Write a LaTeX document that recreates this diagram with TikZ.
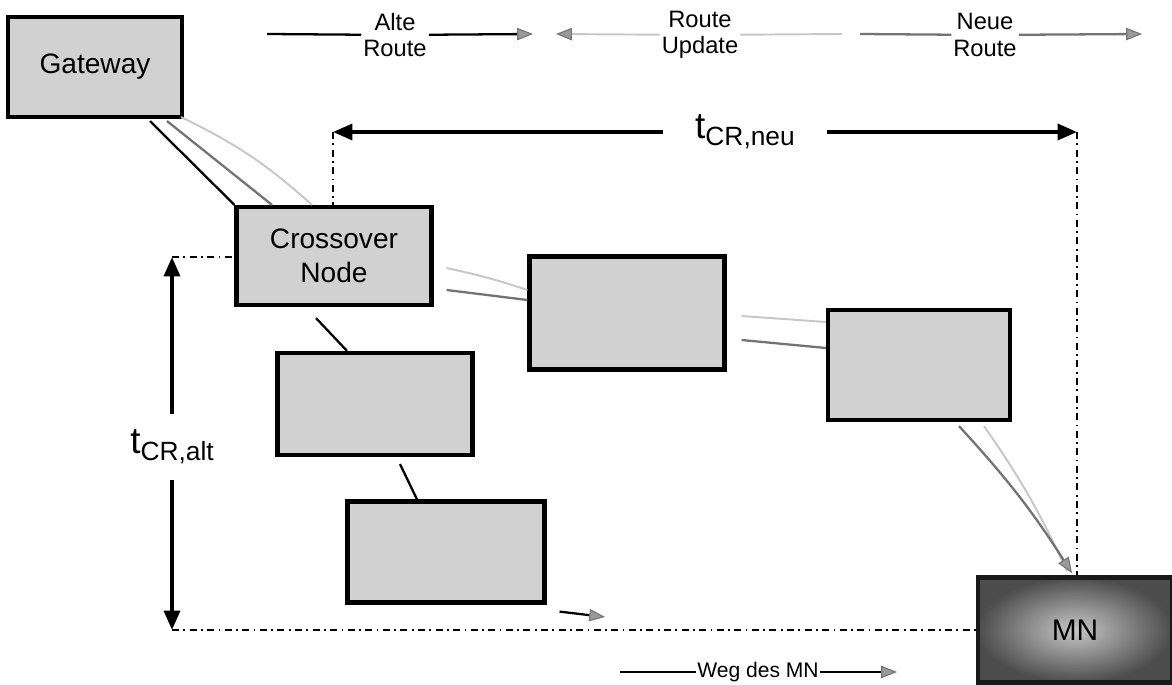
\documentclass[tikz,border=0pt]{standalone}
\usepackage{fontspec}
\setmainfont{Liberation Sans}
\usetikzlibrary{arrows.meta}

\begin{document}
\begin{tikzpicture}[
x=0.02cm, y=-0.02cm,
every node/.style={align=center},
box/.style={draw, line width=2.4pt, fill=black!18, font=\fontsize{16}{19}\selectfont},
mnbox/.style={draw=black!90, line width=2.6pt, inner color=black!22, outer color=black!70, font=\fontsize{17}{19}\selectfont},
legende/.style={font=\fontsize{13.5}{15}\selectfont, inner xsep=1pt, inner ysep=0pt},
zlabel/.style={inner xsep=18pt, inner ysep=9pt},
alt/.style={line width=1.3pt, black},
neu/.style={line width=1.3pt, black!55},
upd/.style={line width=1.1pt, black!22},
spitze/.style={-{Triangle[length=9pt, width=7pt, color=black!55, fill=black!40, line width=0.6pt]}},
zeit/.style={line width=2.2pt, -{Triangle[length=11pt, width=9pt]}},
hilf/.style={line width=1.5pt, dash pattern=on 4pt off 2.5pt on 1pt off 2.5pt}
]
\useasboundingbox (0,0) rectangle (1172,685);

\node[legende] (la) at (395,35) {Alte\\Route};
\node[legende] (lu) at (700,35) {Route\\Update};
\node[legende] (ln) at (985,35) {Neue\\Route};

\coordinate (la1) at (267,34);
\coordinate (la2) at (533,34);
\coordinate (lu1) at (556,34);
\coordinate (lu2) at (842,34);
\coordinate (ln1) at (860,34);
\coordinate (ln2) at (1142,34);

\draw[alt] (la1) -- (la);
\draw[alt, spitze] (la) -- (la2);
\draw[upd, spitze] (lu) -- (lu1);
\draw[upd] (lu) -- (lu2);
\draw[neu] (ln1) -- (ln);
\draw[neu, spitze] (ln) -- (ln2);

\node[box, minimum width=3.48cm, minimum height=2cm] (gw) at (95,67) {Gateway};
\node[box, minimum width=3.9cm, minimum height=1.96cm] (cn) at (334,256) {Crossover\\Node};
\node[box, minimum width=3.9cm, minimum height=2.26cm] (k1) at (627,313) {};
\node[box, minimum width=3.64cm, minimum height=2.2cm] (k2) at (919,365) {};
\node[box, minimum width=3.9cm, minimum height=2.04cm] (k3) at (375,404) {};
\node[box, minimum width=3.94cm, minimum height=2.02cm] (k4) at (446,552) {};
\node[mnbox, minimum width=3.88cm, minimum height=2.1cm] (mn) at (1075,630) {MN};

\draw[alt] ([shift={(55,2)}]gw.south) -- (cn.north west);
\draw[neu] ([shift={(72,2)}]gw.south) -- ([shift={(-62,0)}]cn.north);
\draw[upd] ([shift={(86,-2)}]gw.south) to[bend left=8] ([shift={(-22,0)}]cn.north);

\draw[upd] ([shift={(13,12)}]cn.east) to[bend left=3] ([shift={(0,-23)}]k1.west);
\draw[neu] ([shift={(13,34)}]cn.east) -- ([shift={(0,-13)}]k1.west);
\draw[upd] ([shift={(15,3)}]k1.east) -- ([shift={(0,-43)}]k2.west);
\draw[neu] ([shift={(15,27)}]k1.east) -- ([shift={(0,-17)}]k2.west);
\draw[upd] ([shift={(65,4)}]k2.south) to[bend left=5] ([shift={(-8,-4)}]mn.north);
\draw[neu, spitze] ([shift={(40,4)}]k2.south) to[bend left=5] ([shift={(-3,-2)}]mn.north);

\draw[alt] ([shift={(-18,11)}]cn.south) -- ([shift={(-28,0)}]k3.north);
\draw[alt] ([shift={(25,7)}]k3.south) -- ([shift={(-29,0)}]k4.north);
\coordinate (altziel) at (605,617);
\draw[alt, spitze] ([shift={(13,7)}]k4.south east) -- (altziel);

\node[zlabel] (tn) at (745,132) {\fontsize{21}{22}\selectfont t\raisebox{-4pt}{\fontsize{15}{17}\selectfont CR,neu}};
\coordinate (nl) at (333,132);
\coordinate (nr) at (1077,132);
\draw[zeit] (tn) -- (nl);
\draw[zeit] (tn) -- (nr);
\draw[hilf] (nl) -- (nl |- cn.north);
\draw[hilf] (nr) -- (nr |- mn.north);

\node[zlabel] (ta) at (172,447) {\fontsize{21}{22}\selectfont t\raisebox{-4pt}{\fontsize{15}{17}\selectfont CR,alt}};
\coordinate (ao) at (172,257);
\coordinate (au) at (172,630);
\draw[zeit] (ta) -- (ao);
\draw[zeit] (ta) -- (au);
\draw[hilf] (ao) -- (ao -| cn.west);
\draw[hilf] (au) -- (mn.west);

\node[font=\fontsize{12}{14}\selectfont, inner sep=0.5pt] (weg) at (758,672) {Weg des MN};
\coordinate (w1) at (620,672);
\coordinate (w2) at (897,672);
\draw[line width=0.9pt] (w1) -- (weg);
\draw[line width=0.9pt, spitze] (weg) -- (w2);

\end{tikzpicture}
\end{document}
